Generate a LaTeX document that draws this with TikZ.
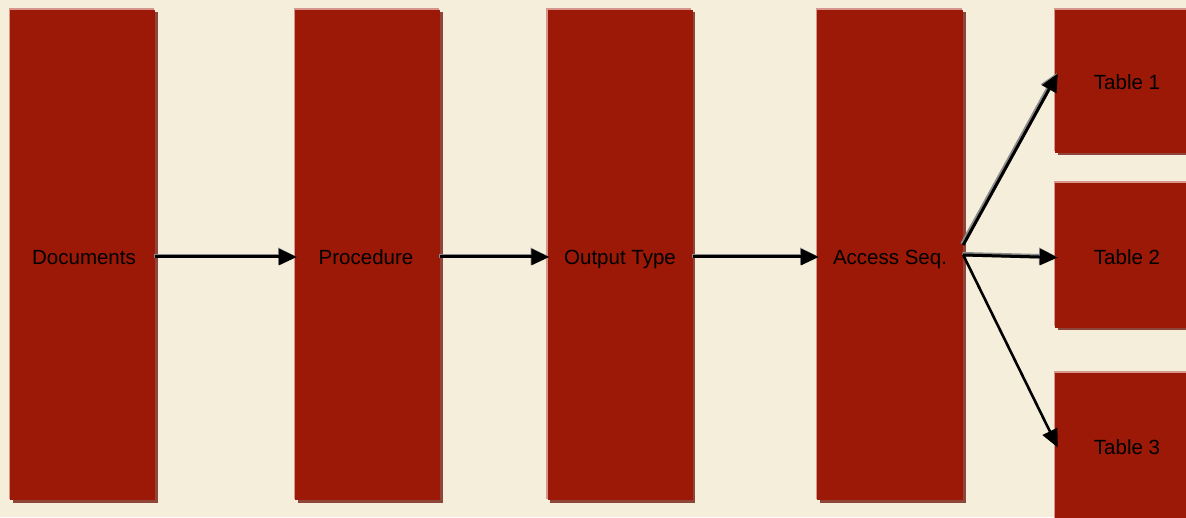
\documentclass[tikz,border=0pt]{standalone}
\usepackage{fontspec}
\setmainfont{Liberation Sans}
\usetikzlibrary{arrows.meta,calc}
\definecolor{bgc}{RGB}{244,238,218}
\definecolor{boxred}{RGB}{155,25,6}
\definecolor{shadowc}{RGB}{142,70,58}
\definecolor{edgec}{RGB}{214,150,140}
\definecolor{haloc}{RGB}{140,140,140}
\tikzset{
  redbox/.style={rectangle, fill=boxred, inner sep=0pt, text=black,
    preaction={fill=shadowc, transform canvas={shift={(2.5pt,-2.5pt)}}},
    preaction={fill=edgec, transform canvas={shift={(-1.5pt,1.5pt)}}}},
  lbl/.style={font=\fontsize{20.5}{24}\selectfont, anchor=base, inner sep=0pt},
  flow/.style={-{Triangle[length=18pt,width=16pt]}, line width=3pt, black,
    preaction={draw=haloc, line width=4.5pt, transform canvas={shift={(-0.8pt,0.8pt)}}}},
  flowthin/.style={-{Triangle[length=18pt,width=16pt]}, line width=2.6pt, black}
}
\begin{document}
\begin{tikzpicture}[x=1pt,y=1pt]
\useasboundingbox (0,0) rectangle (1186,517);
\fill[bgc] (0,0) rectangle (1186,517);
\node[redbox, minimum width=145pt, minimum height=490pt] (doc) at (82.5,262) {};
\node[redbox, minimum width=145pt, minimum height=490pt] (proc) at (367.5,262) {};
\node[redbox, minimum width=145pt, minimum height=490pt] (out) at (620,262) {};
\node[redbox, minimum width=146pt, minimum height=490pt] (acc) at (890,262) {};
\node[redbox, minimum width=145pt, minimum height=143pt] (t1) at (1127.5,435.5) {};
\node[redbox, minimum width=145pt, minimum height=145pt] (t2) at (1127.5,261.5) {};
\node[redbox, minimum width=145pt, minimum height=147pt] (t3) at (1127.5,70.5) {};
\node[lbl] (ldoc) at (84,252.5) {Documents};
\node[lbl] (lproc) at (366,252.5) {Procedure};
\node[lbl] (lout) at (620,252.5) {Output Type};
\node[lbl] (lacc) at (890,252.5) {Access Seq.};
\node[lbl] (lt1) at (1127,427.5) {Table 1};
\node[lbl] (lt2) at (1127,252.5) {Table 2};
\node[lbl] (lt3) at (1127,62.5) {Table 3};
\draw[flow] ([yshift=-2pt]doc.east) -- ([xshift=2pt,yshift=-2pt]proc.west);
\draw[flow] ([yshift=-2pt]proc.east) -- ([xshift=2pt,yshift=-2pt]out.west);
\draw[flow] ([yshift=-2pt]out.east) -- ([xshift=2pt,yshift=-2pt]acc.west);
\draw[flow] ([yshift=10pt]acc.east) -- ([xshift=3pt,yshift=8pt]t1.west);
\draw[flow] ([yshift=0pt]acc.east) -- ([xshift=3pt,yshift=-2pt]t2.west);
\draw[flowthin] ([yshift=0pt]acc.east) -- ([xshift=3pt,yshift=-1pt]t3.west);
\end{tikzpicture}
\end{document}
